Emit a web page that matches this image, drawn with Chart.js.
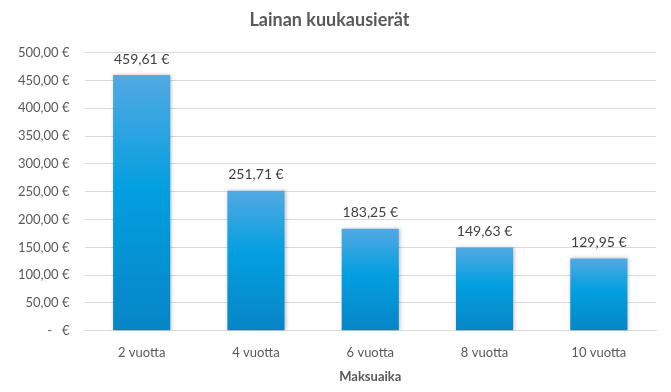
<!DOCTYPE html>
<html>
<head>
<meta charset="utf-8">
<script src="https://cdn.jsdelivr.net/npm/chart.js@4/dist/chart.umd.min.js"></script>
<style>
    html, body { margin: 0; padding: 0; background: #fff; }
    #wrap { width: 671px; height: 392px; position: relative; }
</style>
</head>
<body>
<div id="wrap"><canvas id="chart"></canvas></div>
<script>
// Chart data
const categories = ['2 vuotta', '4 vuotta', '6 vuotta', '8 vuotta', '10 vuotta']
const payments = [459.61, 251.71, 183.25, 149.63, 129.95]
const yTicks = [0, 50, 100, 150, 200, 250, 300, 350, 400, 450, 500]

const FONT = 'Lato, "Open Sans", sans-serif'
const TEXT = '#595959'

// Finnish euro format, e.g. 459,61 €
function euro(v) {
    if (v === 0) return '-   €'
    return v.toFixed(2).replace('.', ',') + ' €'
}

// Per-bar vertical gradient, light on top and darker at the base
function barGradient(context) {
    const chart = context.chart
    const { ctx, chartArea, scales } = chart
    if (!chartArea || context.dataIndex === undefined) return '#0a9ae0'
    const top = scales.y.getPixelForValue(payments[context.dataIndex])
    const bottom = scales.y.getPixelForValue(0)
    const g = ctx.createLinearGradient(0, top, 0, bottom)
    g.addColorStop(0, '#52a9e2')
    g.addColorStop(0.45, '#029fe0')
    g.addColorStop(1, '#0785c6')
    return g
}

// Values above the bars
const valueLabels = {
    id: 'valueLabels',
    afterDatasetsDraw(chart) {
        const { ctx } = chart
        const meta = chart.getDatasetMeta(0)
        ctx.save()
        ctx.font = '14px ' + FONT
        ctx.fillStyle = '#404040'
        ctx.textAlign = 'center'
        ctx.textBaseline = 'bottom'
        meta.data.forEach((bar, i) => {
            ctx.fillText(euro(payments[i]), bar.x, bar.y - 9)
        })
        ctx.restore()
    }
}

// Soft shadow behind the bars
const barShadow = {
    id: 'barShadow',
    beforeDatasetDraw(chart) {
        const ctx = chart.ctx
        ctx.save()
        ctx.shadowColor = 'rgba(0,0,0,0.25)'
        ctx.shadowBlur = 4
        ctx.shadowOffsetX = 1
    },
    afterDatasetDraw(chart) {
        chart.ctx.restore()
    }
}

new Chart(document.getElementById('chart'), {
    type: 'bar',
    data: {
        labels: categories,
        datasets: [{
            label: 'Kuukausierä',
            data: payments,
            backgroundColor: barGradient,
            borderWidth: 0,
            categoryPercentage: 1,
            barPercentage: 0.5
        }]
    },
    options: {
        responsive: true,
        maintainAspectRatio: false,
        animation: false,
        layout: { padding: { left: 3, right: 15, top: 5, bottom: 7 } },
        plugins: {
            legend: { display: false },
            tooltip: { enabled: false },
            title: {
                display: true,
                text: 'Lainan kuukausierät',
                color: TEXT,
                font: { family: FONT, size: 18, weight: 'bold' },
                padding: { top: 4, bottom: 22 }
            }
        },
        scales: {
            x: {
                grid: { display: false },
                border: { color: '#d9d9d9' },
                ticks: {
                    color: TEXT,
                    font: { family: FONT, size: 13 },
                    padding: 6
                },
                title: {
                    display: true,
                    text: 'Maksuaika',
                    color: TEXT,
                    font: { family: FONT, size: 13, weight: 'bold' },
                    padding: { top: 3, bottom: 0 }
                }
            },
            y: {
                min: yTicks[0],
                max: yTicks[yTicks.length - 1],
                afterBuildTicks: axis => {
                    axis.ticks = yTicks.map(v => ({ value: v }))
                },
                grid: { color: '#d9d9d9', drawTicks: false },
                border: { display: false },
                ticks: {
                    color: TEXT,
                    font: { family: FONT, size: 13 },
                    padding: 15,
                    callback: v => euro(v)
                }
            }
        }
    },
    plugins: [barShadow, valueLabels]
})
</script>
</body>
</html>
